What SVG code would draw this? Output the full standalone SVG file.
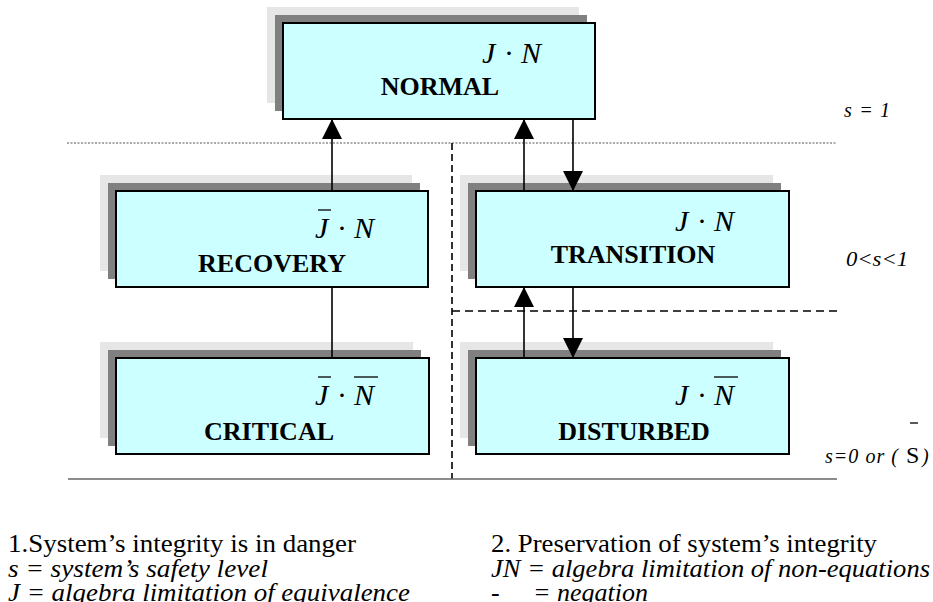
<svg xmlns="http://www.w3.org/2000/svg" width="933" height="602" viewBox="0 0 933 602">
<style>
.sh1{fill:#e6e6e6}
.sh2{fill:#808080}
.box{fill:#ccffff;stroke:#000;stroke-width:2}
.lbl{font-family:"Liberation Serif","Times New Roman",serif;font-weight:bold;font-size:26px;text-anchor:middle;fill:#000}
.mth{font-family:"Liberation Serif","Times New Roman",serif;font-size:30px;fill:#000}
.it{font-style:italic}
.bar{stroke:#000;stroke-width:1.3}
.cn{stroke:#000;stroke-width:1.6;fill:none}
.side{font-family:"Liberation Serif","Times New Roman",serif;font-style:italic;font-size:20px;fill:#000}
.note{font-family:"Liberation Serif","Times New Roman",serif;font-size:26px;fill:#000}
</style>
<defs>
<marker id="ah" markerUnits="userSpaceOnUse" markerWidth="20" markerHeight="20" refX="20" refY="10" orient="auto">
<path d="M0,0 L20,10 L0,20 z" fill="#000"/>
</marker>
</defs>

<g id="guides">
<line x1="67" y1="143" x2="837" y2="143" stroke="#555" stroke-width="1" stroke-dasharray="2,1.5"/>
<line x1="452" y1="143" x2="452" y2="479" stroke="#000" stroke-width="1.6" stroke-dasharray="7,4"/>
<line x1="452" y1="311" x2="837" y2="311" stroke="#000" stroke-width="1.6" stroke-dasharray="8,5"/>
<line x1="68" y1="479" x2="837" y2="479" stroke="#666" stroke-width="1.5"/>
</g>

<g id="normal">
<rect class="sh1" x="267" y="7" width="312" height="96"/>
<rect class="sh2" x="275" y="15" width="312" height="96"/>
<rect class="box" x="283" y="23" width="312" height="96"/>
<text class="mth" y="63"><tspan class="it" x="482">J</tspan><tspan x="504">·</tspan><tspan class="it" x="521">N</tspan></text>
<text class="lbl" x="440" y="95">NORMAL</text>
</g>

<g id="recovery">
<rect class="sh1" x="100" y="175" width="312" height="96"/>
<rect class="sh2" x="108" y="183" width="312" height="96"/>
<rect class="box" x="116" y="191" width="312" height="96"/>
<text class="mth" y="238"><tspan class="it" x="315">J</tspan><tspan x="337">·</tspan><tspan class="it" x="354">N</tspan></text>
<line class="bar" x1="318" y1="210" x2="331" y2="210"/>
<text class="lbl" x="272" y="272">RECOVERY</text>
</g>

<g id="transition">
<rect class="sh1" x="460" y="175" width="313" height="96"/>
<rect class="sh2" x="468" y="183" width="313" height="96"/>
<rect class="box" x="476" y="191" width="313" height="96"/>
<text class="mth" y="231"><tspan class="it" x="675">J</tspan><tspan x="697">·</tspan><tspan class="it" x="714">N</tspan></text>
<text class="lbl" x="633" y="263">TRANSITION</text>
</g>

<g id="critical">
<rect class="sh1" x="100" y="342" width="313" height="96"/>
<rect class="sh2" x="108" y="350" width="313" height="96"/>
<rect class="box" x="116" y="358" width="313" height="96"/>
<text class="mth" y="405"><tspan class="it" x="315">J</tspan><tspan x="337">·</tspan><tspan class="it" x="354">N</tspan></text>
<line class="bar" x1="318" y1="377" x2="331" y2="377"/>
<line class="bar" x1="354" y1="377" x2="378" y2="377"/>
<text class="lbl" x="269" y="440">CRITICAL</text>
</g>

<g id="disturbed">
<rect class="sh1" x="460" y="342" width="313" height="96"/>
<rect class="sh2" x="468" y="350" width="313" height="96"/>
<rect class="box" x="476" y="358" width="313" height="96"/>
<text class="mth" y="405"><tspan class="it" x="675">J</tspan><tspan x="697">·</tspan><tspan class="it" x="714">N</tspan></text>
<line class="bar" x1="714" y1="377" x2="738" y2="377"/>
<text class="lbl" x="634" y="440">DISTURBED</text>
</g>

<g id="connectors">
<line class="cn" x1="332" y1="191" x2="332" y2="119" marker-end="url(#ah)"/>
<line class="cn" x1="332" y1="287" x2="332" y2="358"/>
<line class="cn" x1="524" y1="191" x2="524" y2="119" marker-end="url(#ah)"/>
<line class="cn" x1="573" y1="119" x2="573" y2="191" marker-end="url(#ah)"/>
<line class="cn" x1="573" y1="287" x2="573" y2="358" marker-end="url(#ah)"/>
<line class="cn" x1="524" y1="358" x2="524" y2="287" marker-end="url(#ah)"/>
</g>

<g id="levels">
<text class="side" x="844" y="117" textLength="46" lengthAdjust="spacing">s = 1</text>
<text class="side" x="846" y="266" textLength="62" lengthAdjust="spacingAndGlyphs">0&lt;s&lt;1</text>
<text class="side" x="825" y="463" textLength="73" lengthAdjust="spacing">s=0 or (</text>
<text x="906" y="463" font-family="'Liberation Serif','Times New Roman',serif" font-size="24" fill="#000">S</text>
<text class="side" x="922" y="463">)</text>
<line class="bar" x1="910" y1="423" x2="918" y2="423"/>
</g>

<g id="notes">
<text class="note" x="8" y="552" textLength="348" lengthAdjust="spacingAndGlyphs">1.System’s integrity is in danger</text>
<text class="note it" x="8" y="577" textLength="260" lengthAdjust="spacingAndGlyphs">s = system’s safety level</text>
<text class="note it" x="8" y="601" textLength="402" lengthAdjust="spacingAndGlyphs">J = algebra limitation of equivalence</text>
<text class="note" x="491" y="552" textLength="386" lengthAdjust="spacingAndGlyphs">2. Preservation of system’s integrity</text>
<text class="note it" x="491" y="577" textLength="439" lengthAdjust="spacingAndGlyphs">JN = algebra limitation of non-equations</text>
<text class="note it" y="601"><tspan x="491">-</tspan><tspan x="533">= negation</tspan></text>
</g>
</svg>
